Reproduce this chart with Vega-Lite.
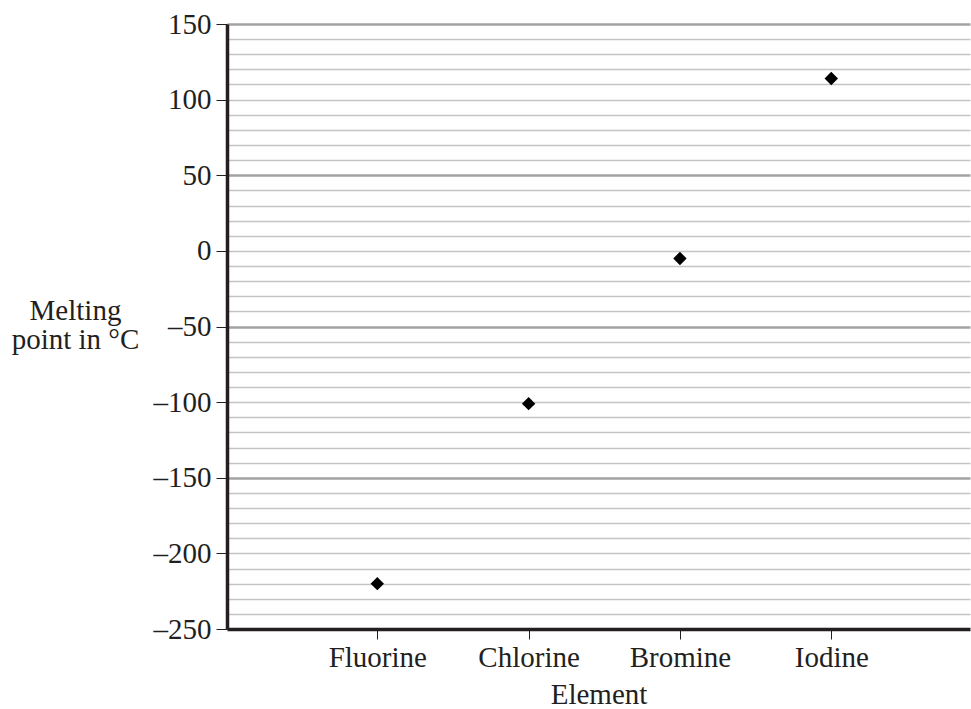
{
  "$schema": "https://vega.github.io/schema/vega-lite/v6.json",
  "autosize": "none",
  "width": 743,
  "height": 605,
  "padding": {"left": 227, "top": 24, "right": 1, "bottom": 80},
  "background": "white",
  "config": {
    "view": {"stroke": null},
    "font": "Liberation Serif",
    "axis": {"labelFont": "Liberation Serif", "titleFont": "Liberation Serif", "labelColor": "#231f20", "titleColor": "#231f20", "titleFontWeight": "normal"}
  },
  "data": {
    "values": [
      {"Element": "Fluorine", "Melting": -220},
      {"Element": "Chlorine", "Melting": -101},
      {"Element": "Bromine", "Melting": -5},
      {"Element": "Iodine", "Melting": 114}
    ]
  },
  "mark": {"type": "point", "shape": "diamond", "filled": true, "color": "#000000", "opacity": 1, "size": 180},
  "encoding": {
    "x": {
      "field": "Element",
      "type": "nominal",
      "sort": null,
      "scale": {"type": "point", "padding": 0.955, "align": 0.52},
      "axis": {
        "title": "Element",
        "titleFontSize": 29,
        "titlePadding": 8,
        "labelFontSize": 29,
        "labelAngle": 0,
        "labelPadding": 4,
        "tickSize": 10,
        "tickColor": "#231f20",
        "tickWidth": 1,
        "domainColor": "#231f20",
        "domainWidth": 3.5,
        "grid": false
      }
    },
    "y": {
      "field": "Melting",
      "type": "quantitative",
      "scale": {"domain": [-250, 150], "nice": false, "zero": false},
      "axis": {
        "title": ["Melting", "point in °C"],
        "titleAngle": 0,
        "titleAlign": "center",
        "titleBaseline": "alphabetic",
        "titleX": -152,
        "titleY": 295,
        "titleFontSize": 29,
        "titleLineHeight": 29,
        "values": [-250,-240,-230,-220,-210,-200,-190,-180,-170,-160,-150,-140,-130,-120,-110,-100,-90,-80,-70,-60,-50,-40,-30,-20,-10,0,10,20,30,40,50,60,70,80,90,100,110,120,130,140,150],
        "labelExpr": "datum.value % 50 == 0 ? (datum.value < 0 ? '–' + abs(datum.value) : '' + datum.value) : ''",
        "labelFontSize": 29,
        "labelPadding": 5,
        "labelBaseline": "middle",
        "tickSize": 11,
        "tickColor": "#231f20",
        "tickWidth": 1,
        "tickOpacity": {"condition": {"test": "datum.value % 50 == 0", "value": 1}, "value": 0},
        "domainColor": "#231f20",
        "domainWidth": 3.5,
        "grid": true,
        "gridColor": {"condition": {"test": "abs(datum.value % 100) == 50", "value": "#a3a3a3"}, "value": "#c4c4c4"},
        "gridWidth": {"condition": {"test": "abs(datum.value % 100) == 50", "value": 2.5}, "value": 1.5},
        "gridOpacity": {"condition": {"test": "datum.value == -250", "value": 0}, "value": 1}
      }
    }
  }
}
